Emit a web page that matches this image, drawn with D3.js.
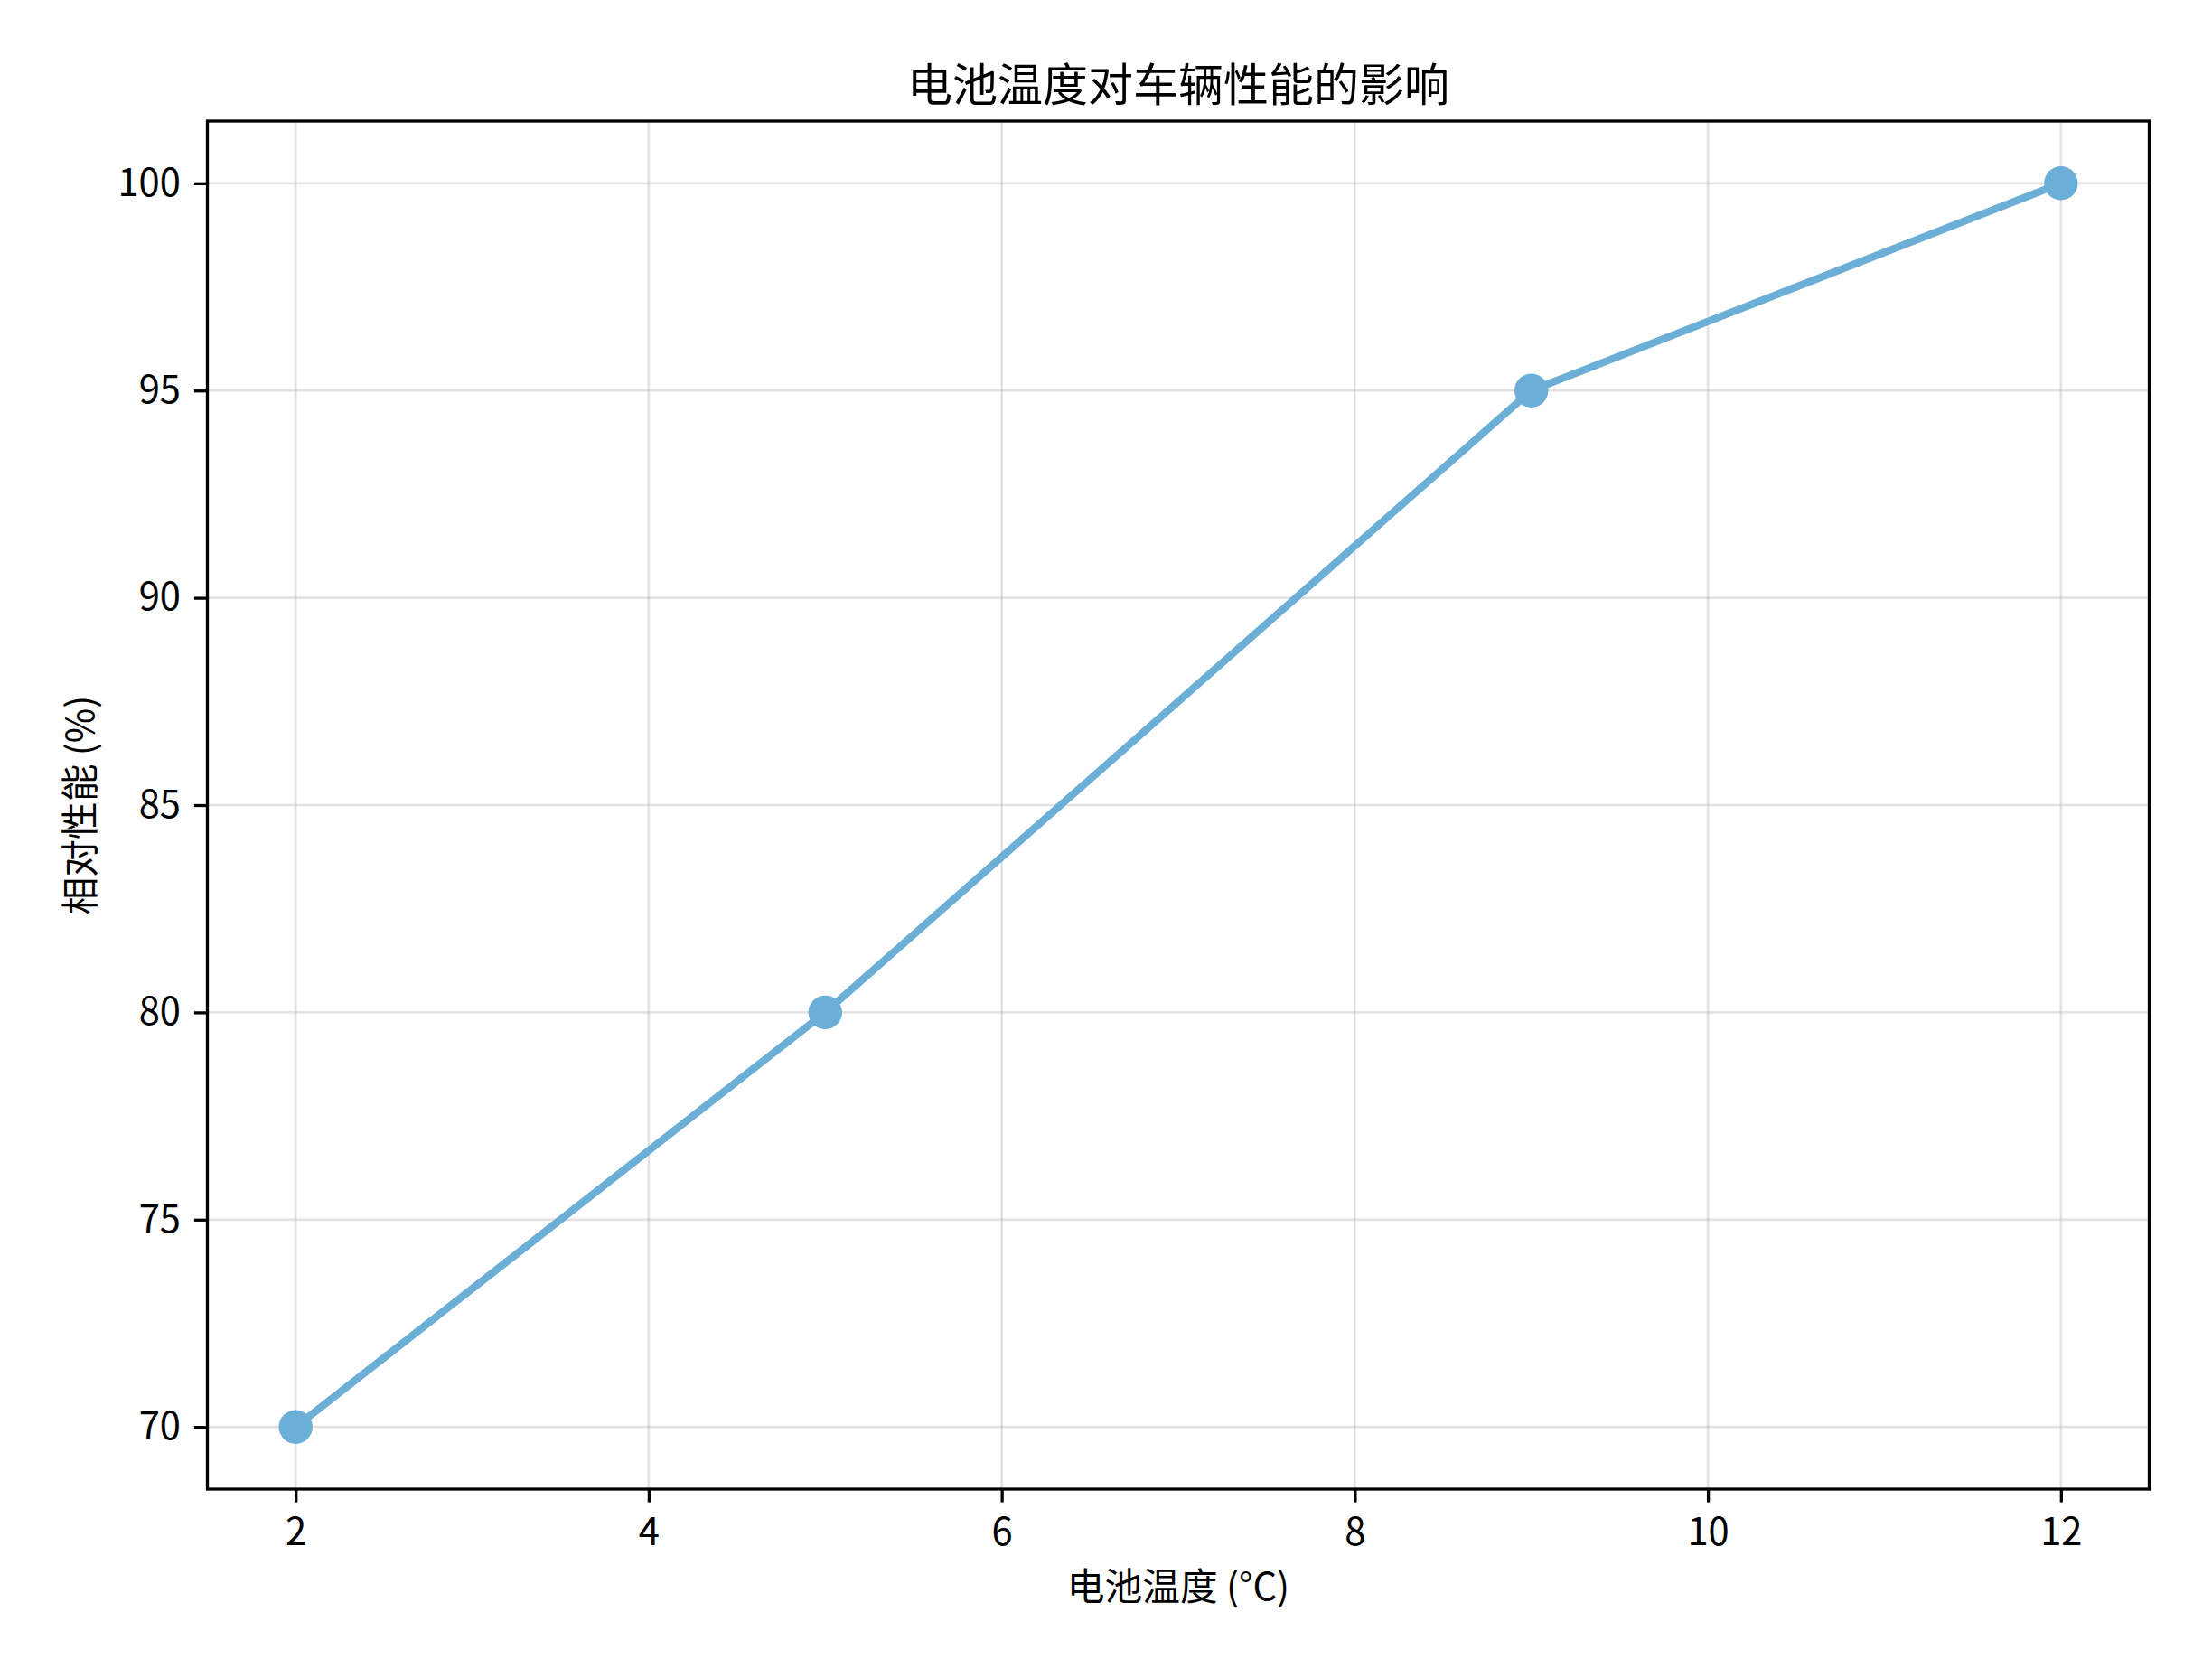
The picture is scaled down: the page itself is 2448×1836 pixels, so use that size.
<html lang="zh">
<head>
    <meta charset="UTF-8">
    <title>battery</title>
    <style>
        body { margin: 0; background: #fff; }
        text { font-family: "Noto Sans CJK SC", "Noto Sans", sans-serif; fill: #000; }
    </style>
</head>
<body>
<script src="https://d3js.org/d3.v7.min.js"></script>
<script>
    var temps = [2, 5, 9, 12];
    var perf = [70, 80, 95, 100];
    var xTicks = [2, 4, 6, 8, 10, 12];
    var yTicks = [70, 75, 80, 85, 90, 95, 100];

    var width = 2448, height = 1836;
    var padL = 229.5, padR = 2378.5, padT = 134, padB = 1648;
    var color = "#6baed6";

    var svg = d3.select("body").append("svg").attr("width", width).attr("height", height);

    var x = d3.scaleLinear().domain([1.5, 12.5]).range([padL, padR]);
    var y = d3.scaleLinear().domain([68.5, 101.5]).range([padB, padT]);

    // grid
    svg.append("g").selectAll("line").data(xTicks).enter().append("line")
        .attr("x1", function(d){ return x(d); }).attr("x2", function(d){ return x(d); })
        .attr("y1", padT).attr("y2", padB)
        .attr("stroke", "#b0b0b0").attr("stroke-opacity", 0.35).attr("stroke-width", 2.7);
    svg.append("g").selectAll("line").data(yTicks).enter().append("line")
        .attr("y1", function(d){ return y(d); }).attr("y2", function(d){ return y(d); })
        .attr("x1", padL).attr("x2", padR)
        .attr("stroke", "#b0b0b0").attr("stroke-opacity", 0.35).attr("stroke-width", 2.7);

    // axes
    var xAxis = svg.append("g").attr("transform", "translate(0," + padB + ")")
        .call(d3.axisBottom(x).tickValues(xTicks).tickSize(14.6).tickPadding(18).tickFormat(d3.format("d")));
    var yAxis = svg.append("g").attr("transform", "translate(" + padL + ",0)")
        .call(d3.axisLeft(y).tickValues(yTicks).tickSize(14.6).tickPadding(15).tickFormat(d3.format("d")));
    [xAxis, yAxis].forEach(function(a){
        a.select(".domain").remove();
        a.selectAll(".tick line").attr("stroke", "#000").attr("stroke-width", 3.3);
        a.selectAll(".tick text").attr("font-size", 41.7).attr("fill", "#000")
            .style("font-family", "'Noto Sans CJK SC', sans-serif");
    });

    // frame
    svg.append("rect").attr("x", padL).attr("y", padT)
        .attr("width", padR - padL).attr("height", padB - padT)
        .attr("fill", "none").attr("stroke", "#000").attr("stroke-width", 3.3);

    // line + markers
    var pts = temps.map(function(t, i){ return [t, perf[i]]; });
    svg.append("path").datum(pts)
        .attr("d", d3.line().x(function(d){ return x(d[0]); }).y(function(d){ return y(d[1]); }))
        .attr("fill", "none").attr("stroke", color).attr("stroke-width", 8.3)
        .attr("stroke-linejoin", "round");
    svg.append("g").selectAll("circle").data(pts).enter().append("circle")
        .attr("cx", function(d){ return x(d[0]); })
        .attr("cy", function(d){ return y(d[1]); })
        .attr("r", 18.7).attr("fill", color);

    // labels
    svg.append("text").attr("x", (padL + padR) / 2).attr("y", 112)
        .attr("text-anchor", "middle").attr("font-size", 50).text("电池温度对车辆性能的影响");
    svg.append("text").attr("x", (padL + padR) / 2).attr("y", 1771)
        .attr("text-anchor", "middle").attr("font-size", 41.7).text("电池温度 (°C)");
    svg.append("text").attr("transform", "translate(104," + (padT + padB) / 2 + ") rotate(-90)")
        .attr("text-anchor", "middle").attr("font-size", 41.7).text("相对性能 (%)");
</script>
</body>
</html>
